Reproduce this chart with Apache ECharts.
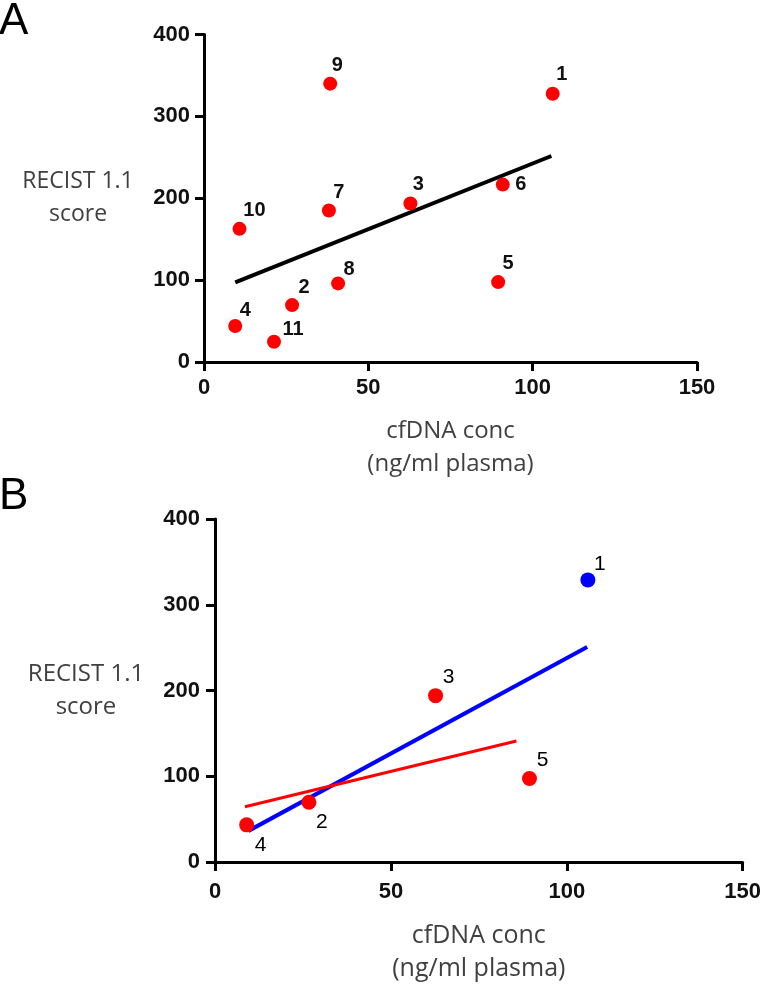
<!DOCTYPE html>
<html>
<head>
<meta charset="utf-8">
<script src="https://cdn.jsdelivr.net/npm/echarts@6/dist/echarts.min.js"></script>
<style>
html,body{margin:0;padding:0;background:#fff;}
#chart{width:764px;height:986px;}
</style>
</head>
<body>
<div id="chart"></div>
<script>
// ---- Data ----
// Panel A: all 11 patients
const idsA    = ['1','2','3','4','5','6','7','8','9','10','11'];
const cfdnaA  = [106.1, 26.8, 62.8, 9.5, 89.5, 90.9, 38.0, 40.8, 38.4, 10.8, 21.3];
const recistA = [327.7, 69.5, 193.5, 43.9, 97.6, 216.7, 185.0, 96.0, 340.0, 162.6, 24.8];
const fitAx   = [9.5, 105.7];
const fitAy   = [97.2, 251.6];

// Panel B: 5 patients
const idsB    = ['1','2','3','4','5'];
const cfdnaB  = [106.0, 26.7, 62.7, 9.0, 89.4];
const recistB = [329.0, 69.6, 194.0, 43.3, 97.4];
const groupB  = ['blue','red','red','red','red'];
const fitBlueX = [9.5, 105.8];
const fitBlueY = [36.3, 250.8];
const fitRedX  = [8.5, 85.7];
const fitRedY  = [64.5, 141.1];

// Axis ticks
const xTicks = [0, 50, 100, 150];
const yTicks = [0, 100, 200, 300, 400];

// ---- Label placement (layout only) ----
const labelOffA = {'1':[9,-19],'2':[12,-18],'3':[8,-19],'4':[10,-16],'5':[10,-19],'6':[18,0],
                   '7':[10,-18],'8':[11,-14],'9':[7,-18],'10':[15,-18],'11':[19,-12]};
const labelOffB = {'1':[12,-16],'2':[13,20],'3':[13,-18],'4':[14,20],'5':[13,-18]};

const RED = '#ff0000', BLUE = '#0000ff';
const tickFont = {fontFamily:'Liberation Sans, Arial, sans-serif', fontWeight:'bold', fontSize:22, color:'#111'};
function titleFont(size){
  return {fontFamily:'"Open Sans", sans-serif', fontSize:size, color:'#404040', align:'center', verticalAlign:'middle', lineHeight:33};
}

function makeXAxis(gridIndex, labelMargin, nameGap, nameSize){
  return {
    gridIndex, type:'value', min:xTicks[0], max:xTicks[xTicks.length-1], interval:xTicks[1]-xTicks[0],
    name:'cfDNA conc\n(ng/ml plasma)', nameLocation:'middle', nameGap:nameGap,
    nameTextStyle:titleFont(nameSize),
    axisLine:{show:true, onZero:false, lineStyle:{color:'#000', width:3}},
    axisTick:{show:true, inside:false, length:9, lineStyle:{color:'#000', width:3}},
    axisLabel:Object.assign({margin:labelMargin, showMinLabel:true, showMaxLabel:true}, tickFont),
    splitLine:{show:false}
  };
}
function makeYAxis(gridIndex, labelMargin, nameGap, nameSize){
  return {
    gridIndex, type:'value', min:yTicks[0], max:yTicks[yTicks.length-1], interval:yTicks[1]-yTicks[0],
    name:'RECIST 1.1\nscore', nameLocation:'middle', nameGap:nameGap, nameRotate:0,
    nameTextStyle:titleFont(nameSize),
    axisLine:{show:true, onZero:false, lineStyle:{color:'#000', width:3}},
    axisTick:{show:true, inside:false, length:9, lineStyle:{color:'#000', width:3}},
    axisLabel:Object.assign({margin:labelMargin, showMinLabel:true, showMaxLabel:true}, tickFont),
    splitLine:{show:false}
  };
}

function pts(ids, xs, ys, offs, filter){
  const out = [];
  ids.forEach((id,i)=>{
    if (filter && !filter(i)) return;
    out.push({value:[xs[i], ys[i]], name:id, label:{offset:offs[id]}});
  });
  return out;
}

const chart = echarts.init(document.getElementById('chart'), null, {renderer:'canvas'});
chart.setOption({
  animation:false,
  backgroundColor:'#fff',
  grid:[
    {left:204, top:34.5, width:493, height:327.5, containLabel:false},
    {left:215, top:519, width:528, height:345, containLabel:false}
  ],
  xAxis:[ makeXAxis(0, 15, 86, 24), makeXAxis(1, 19, 90, 25) ],
  yAxis:[ makeYAxis(0, 14, 126, 23), makeYAxis(1, 15, 129, 24) ],
  graphic:[
    {type:'text', left:-1, top:0, style:{text:'A', font:'44px "Liberation Sans", Arial, sans-serif', fill:'#000'}},
    {type:'text', left:-1, top:475, style:{text:'B', font:'44px "Liberation Sans", Arial, sans-serif', fill:'#000'}}
  ],
  series:[
    {type:'line', xAxisIndex:0, yAxisIndex:0, data:fitAx.map((x,i)=>[x, fitAy[i]]),
     symbol:'none', lineStyle:{color:'#000', width:4}, z:2},
    {type:'scatter', xAxisIndex:0, yAxisIndex:0, data:pts(idsA, cfdnaA, recistA, labelOffA),
     symbolSize:14, itemStyle:{color:RED, opacity:1}, z:3,
     label:{show:true, position:'inside', formatter:'{b}', fontFamily:'Liberation Sans, Arial, sans-serif',
            fontWeight:'bold', fontSize:20, color:'#111'}},
    {type:'line', xAxisIndex:1, yAxisIndex:1, data:fitBlueX.map((x,i)=>[x, fitBlueY[i]]),
     symbol:'none', lineStyle:{color:BLUE, width:4}, z:2},
    {type:'line', xAxisIndex:1, yAxisIndex:1, data:fitRedX.map((x,i)=>[x, fitRedY[i]]),
     symbol:'none', lineStyle:{color:RED, width:3}, z:2},
    {type:'scatter', xAxisIndex:1, yAxisIndex:1, data:pts(idsB, cfdnaB, recistB, labelOffB, i=>groupB[i]==='red'),
     symbolSize:15, itemStyle:{color:RED, opacity:1}, z:3,
     label:{show:true, position:'inside', formatter:'{b}', fontFamily:'Liberation Sans, Arial, sans-serif',
            fontSize:21, color:'#000'}},
    {type:'scatter', xAxisIndex:1, yAxisIndex:1, data:pts(idsB, cfdnaB, recistB, labelOffB, i=>groupB[i]==='blue'),
     symbolSize:15, itemStyle:{color:BLUE, opacity:1}, z:3,
     label:{show:true, position:'inside', formatter:'{b}', fontFamily:'Liberation Sans, Arial, sans-serif',
            fontSize:21, color:'#000'}}
  ]
});
</script>
</body>
</html>
